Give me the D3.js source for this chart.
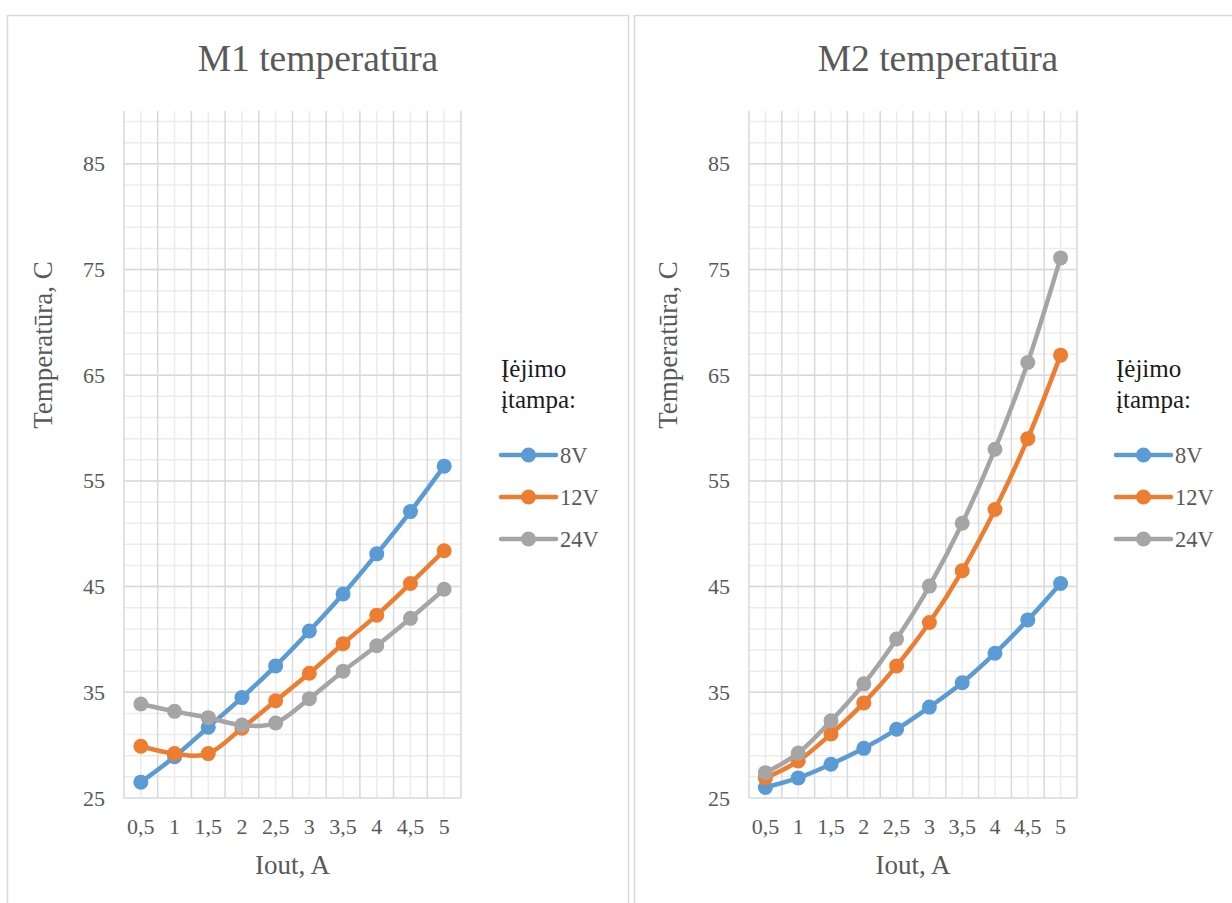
<!DOCTYPE html>
<html>
<head>
<meta charset="utf-8">
<script src="https://cdn.jsdelivr.net/npm/d3@7"></script>
<style>
  body { margin: 0; background: #fff; }
  svg { display: block; font-family: "Liberation Serif", "Times New Roman", serif; }
</style>
</head>
<body>
<div id="chart"></div>
<script>
// categories on the x axis (Iout, A)
var categories = ["0,5", "1", "1,5", "2", "2,5", "3", "3,5", "4", "4,5", "5"];
var seriesNames = ["8V", "12V", "24V"];
var seriesColors = ["#5b9bd5", "#ed7d31", "#a5a5a5"];
var yMajorTicks = [25, 35, 45, 55, 65, 75, 85];

// M1 temperatures
var m1_8V  = [26.5, 28.9, 31.7, 34.5, 37.5, 40.8, 44.3, 48.1, 52.1, 56.4];
var m1_12V = [29.9, 29.2, 29.2, 31.6, 34.2, 36.8, 39.6, 42.3, 45.3, 48.4];
var m1_24V = [33.9, 33.2, 32.6, 31.9, 32.1, 34.4, 37.0, 39.4, 42.0, 44.75];

// M2 temperatures
var m2_8V  = [26.0, 26.9, 28.2, 29.7, 31.5, 33.6, 35.9, 38.7, 41.85, 45.3];
var m2_12V = [26.9, 28.5, 31.05, 34.0, 37.5, 41.6, 46.5, 52.3, 59.0, 66.9];
var m2_24V = [27.4, 29.25, 32.3, 35.8, 40.05, 45.05, 51.0, 58.0, 66.2, 76.1];

var W = 1232, H = 903;
var svg = d3.select("#chart").append("svg")
            .attr("width", W)
            .attr("height", H);

var panels = [
  { title: "M1 temperatūra", series: [m1_8V, m1_12V, m1_24V], titleX: 318,
    frame: [7, 15, 621], plot: [124, 111, 461, 798], legendX: 501 },
  { title: "M2 temperatūra", series: [m2_8V, m2_12V, m2_24V], titleX: 938,
    frame: [634, 15, 609], plot: [749, 111, 1077, 798], legendX: 1116 }
];

panels.forEach(drawPanel);

function drawPanel(p) {
  var g = svg.append("g");
  var left = p.plot[0], top = p.plot[1], right = p.plot[2], bottom = p.plot[3];

  // chart frame
  g.append("rect")
   .attr("x", p.frame[0] + 0.5).attr("y", p.frame[1] + 0.5)
   .attr("width", p.frame[2]).attr("height", H)
   .attr("fill", "#fff")
   .attr("stroke", "#d9d9d9").attr("stroke-width", 1.5);

  var x = d3.scaleBand().domain(categories).range([left, right]).padding(0);
  var y = d3.scaleLinear().domain([25, 90]).range([bottom, top]);

  // minor grid
  var minorY = d3.range(27, 90, 2);
  g.append("g").selectAll("line").data(minorY).enter().append("line")
   .attr("x1", left).attr("x2", right)
   .attr("y1", function(d) { return y(d); }).attr("y2", function(d) { return y(d); })
   .attr("stroke", "#ececec").attr("stroke-width", 1.5);
  g.append("g").selectAll("line").data(categories).enter().append("line")
   .attr("x1", function(d) { return x(d) + x.bandwidth() / 2; })
   .attr("x2", function(d) { return x(d) + x.bandwidth() / 2; })
   .attr("y1", top).attr("y2", bottom)
   .attr("stroke", "#ececec").attr("stroke-width", 1.5);

  // major grid
  g.append("g").selectAll("line").data(yMajorTicks).enter().append("line")
   .attr("x1", left).attr("x2", right)
   .attr("y1", function(d) { return y(d); }).attr("y2", function(d) { return y(d); })
   .attr("stroke", "#d9d9d9").attr("stroke-width", 1.5);
  var bounds = categories.map(function(c) { return x(c); }).concat([right]);
  g.append("g").selectAll("line").data(bounds).enter().append("line")
   .attr("x1", function(d) { return d; }).attr("x2", function(d) { return d; })
   .attr("y1", top).attr("y2", bottom)
   .attr("stroke", "#d9d9d9").attr("stroke-width", 1.5);

  // axes (labels only)
  var yAxis = g.append("g")
     .attr("transform", "translate(" + left + ",0)")
     .call(d3.axisLeft(y).tickValues(yMajorTicks).tickSize(0).tickPadding(19));
  var xAxis = g.append("g")
     .attr("transform", "translate(0," + bottom + ")")
     .call(d3.axisBottom(x).tickSize(0).tickPadding(20));
  [yAxis, xAxis].forEach(function(a) {
    a.select(".domain").remove();
    a.selectAll("text")
     .attr("font-family", "Liberation Serif")
     .attr("font-size", 22).attr("fill", "#595959");
  });

  // titles
  g.append("text")
   .attr("x", p.titleX).attr("y", 71)
   .attr("text-anchor", "middle")
   .attr("font-size", 37.5).attr("fill", "#595959")
   .text(p.title);
  g.append("text")
   .attr("x", (left + right) / 2).attr("y", 874)
   .attr("text-anchor", "middle")
   .attr("font-size", 27).attr("fill", "#595959")
   .text("Iout, A");
  g.append("text")
   .attr("transform", "translate(" + (left - 72) + ",345) rotate(-90)")
   .attr("text-anchor", "middle")
   .attr("font-size", 27).attr("fill", "#595959")
   .text("Temperatūra, C");

  // series
  var line = d3.line()
      .x(function(d, i) { return x(categories[i]) + x.bandwidth() / 2; })
      .y(function(d) { return y(d); })
      .curve(d3.curveCardinal.tension(0));

  p.series.forEach(function(values, si) {
    var sg = g.append("g");
    sg.append("path")
      .datum(values)
      .attr("d", line)
      .attr("fill", "none")
      .attr("stroke", seriesColors[si])
      .attr("stroke-width", 4.5)
      .attr("stroke-linejoin", "round")
      .attr("stroke-linecap", "round");
    sg.selectAll("circle").data(values).enter().append("circle")
      .attr("cx", function(d, i) { return x(categories[i]) + x.bandwidth() / 2; })
      .attr("cy", function(d) { return y(d); })
      .attr("r", 7.5)
      .attr("fill", seriesColors[si]);
  });

  // legend
  var lg = g.append("g");
  lg.append("text").attr("x", p.legendX).attr("y", 377)
    .attr("font-size", 25).attr("fill", "#1a1a1a").text("Įėjimo");
  lg.append("text").attr("x", p.legendX).attr("y", 408)
    .attr("font-size", 25).attr("fill", "#1a1a1a").text("įtampa:");
  seriesNames.forEach(function(name, si) {
    var ly = 455 + si * 42;
    lg.append("line")
      .attr("x1", p.legendX).attr("x2", p.legendX + 55)
      .attr("y1", ly).attr("y2", ly)
      .attr("stroke", seriesColors[si]).attr("stroke-width", 4.5)
      .attr("stroke-linecap", "round");
    lg.append("circle")
      .attr("cx", p.legendX + 27.5).attr("cy", ly).attr("r", 7.5)
      .attr("fill", seriesColors[si]);
    lg.append("text")
      .attr("x", p.legendX + 59).attr("y", ly + 8)
      .attr("font-size", 22.5).attr("fill", "#595959")
      .text(name);
  });
}
</script>
</body>
</html>
